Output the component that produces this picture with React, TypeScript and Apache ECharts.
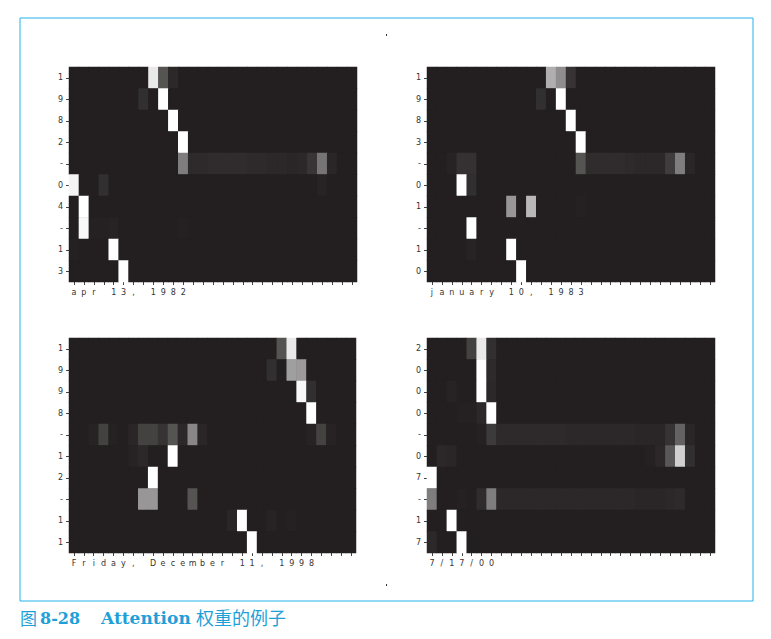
import React, { useEffect, useRef } from "react";
import * as echarts from "echarts";

const N_COLS = 29;

// Input characters (x tick labels) for each example
const xCharsA = ["a", "p", "r", " ", "1", "3", ",", " ", "1", "9", "8", "2"];
const xCharsB = ["j", "a", "n", "u", "a", "r", "y", " ", "1", "0", ",", " ", "1", "9", "8", "3"];
const xCharsC = ["F", "r", "i", "d", "a", "y", ",", " ", "D", "e", "c", "e", "m", "b", "e", "r", " ", "1", "1", ",", " ", "1", "9", "9", "8"];
const xCharsD = ["7", "/", "1", "7", "/", "0", "0"];

// Output characters (y tick labels)
const yCharsA = ["1", "9", "8", "2", "-", "0", "4", "-", "1", "3"];
const yCharsB = ["1", "9", "8", "3", "-", "0", "1", "-", "1", "0"];
const yCharsC = ["1", "9", "9", "8", "-", "1", "2", "-", "1", "1"];
const yCharsD = ["2", "0", "0", "0", "-", "0", "7", "-", "1", "7"];

// Attention weights, one map per output row: input column -> weight (others 0)
const weightsA: Record<number, number>[] = [
  { 8: 0.9, 9: 0.23, 10: 0.04 },
  { 7: 0.07, 9: 1 },
  { 10: 1 },
  { 11: 1 },
  { 11: 0.42, 12: 0.05, 13: 0.05, 14: 0.06, 15: 0.06, 16: 0.06, 17: 0.06, 18: 0.05, 19: 0.05, 20: 0.04, 21: 0.04, 22: 0.03, 23: 0.04, 24: 0.1, 25: 0.38, 26: 0.03 },
  { 0: 0.95, 3: 0.07, 25: 0.02 },
  { 1: 1 },
  { 1: 0.97, 2: 0.01, 3: 0.01, 4: 0.02, 11: 0.01 },
  { 0: 0.01, 4: 1 },
  { 5: 1 },
];

const weightsB: Record<number, number>[] = [
  { 12: 0.64, 13: 0.49, 14: 0.09 },
  { 11: 0.07, 13: 1 },
  { 14: 1 },
  { 15: 1 },
  { 2: 0.02, 3: 0.08, 4: 0.08, 15: 0.23, 16: 0.06, 17: 0.06, 18: 0.06, 19: 0.06, 20: 0.05, 21: 0.04, 22: 0.04, 23: 0.04, 24: 0.13, 25: 0.42, 26: 0.03 },
  { 3: 1, 4: 0.07 },
  { 8: 0.53, 10: 0.68, 15: 0.01 },
  { 4: 1 },
  { 4: 0.02, 8: 1 },
  { 9: 1 },
];

const weightsC: Record<number, number>[] = [
  { 21: 0.23, 22: 0.9 },
  { 20: 0.07, 22: 0.57, 23: 0.55 },
  { 23: 0.97, 24: 0.07 },
  { 24: 1 },
  { 2: 0.02, 3: 0.15, 4: 0.01, 6: 0.03, 7: 0.15, 8: 0.15, 9: 0.09, 10: 0.23, 11: 0.04, 12: 0.46, 13: 0.03, 24: 0.02, 25: 0.15, 26: 0.02 },
  { 6: 0.02, 7: 0.04, 10: 1 },
  { 8: 1 },
  { 7: 0.53, 8: 0.53, 12: 0.23 },
  { 16: 0.03, 17: 1, 20: 0.02, 22: 0.01 },
  { 18: 1 },
];

const weightsD: Record<number, number>[] = [
  { 4: 0.15, 5: 0.9, 6: 0.07 },
  { 5: 1, 6: 0.05 },
  { 2: 0.02, 5: 1, 6: 0.04 },
  { 3: 0.01, 4: 0.01, 5: 0.04, 6: 1 },
  { 5: 0.01, 6: 0.12, 7: 0.05, 8: 0.05, 9: 0.05, 10: 0.05, 11: 0.05, 12: 0.05, 13: 0.05, 14: 0.04, 15: 0.04, 16: 0.04, 17: 0.04, 18: 0.04, 19: 0.04, 20: 0.04, 21: 0.03, 22: 0.03, 23: 0.03, 24: 0.09, 25: 0.3, 26: 0.03 },
  { 1: 0.04, 2: 0.03, 22: 0.01, 23: 0.04, 24: 0.25, 25: 0.79, 26: 0.07 },
  { 0: 1 },
  { 0: 0.42, 3: 0.01, 5: 0.06, 6: 0.42, 7: 0.04, 8: 0.04, 9: 0.04, 10: 0.04, 11: 0.04, 12: 0.04, 13: 0.04, 14: 0.04, 15: 0.04, 16: 0.04, 17: 0.04, 18: 0.04, 19: 0.04, 20: 0.04, 21: 0.03, 22: 0.03, 23: 0.03, 24: 0.04, 25: 0.05 },
  { 2: 1 },
  { 0: 0.04, 3: 1 },
];

const panels = [
  { x: xCharsA, y: yCharsA, w: weightsA, grid: { left: 69, top: 67, width: 288, height: 215 } },
  { x: xCharsB, y: yCharsB, w: weightsB, grid: { left: 427, top: 67, width: 288, height: 215 } },
  { x: xCharsC, y: yCharsC, w: weightsC, grid: { left: 69, top: 338, width: 287, height: 215 } },
  { x: xCharsD, y: yCharsD, w: weightsD, grid: { left: 427, top: 338, width: 288, height: 215 } },
];

function padLabels(chars: string[]): string[] {
  const out = chars.slice();
  while (out.length < N_COLS) out.push("");
  return out;
}

function toCells(w: Record<number, number>[]): number[][] {
  const cells: number[][] = [];
  w.forEach((row, r) => {
    for (let c = 0; c < N_COLS; c++) {
      cells.push([c, r, row[c] ?? 0]);
    }
  });
  return cells;
}

const LABEL_FONT = "DejaVu Sans";
const DARK = "#231f20";

export default function App() {
  const ref = useRef<HTMLDivElement>(null);
  useEffect(() => {
    if (!ref.current) return;
    const chart = echarts.init(ref.current, undefined, { renderer: "svg" });
    const option: any = {
      animation: false,
      backgroundColor: "#ffffff",
      grid: panels.map((p) => ({ ...p.grid, containLabel: false, show: true, backgroundColor: DARK, borderWidth: 0 })),
      xAxis: panels.map((p, i) => ({
        type: "category",
        gridIndex: i,
        data: padLabels(p.x),
        axisLine: { show: false },
        axisTick: { show: true, alignWithLabel: true, interval: 0, length: 3, lineStyle: { color: "#444", width: 1 } },
        axisLabel: { interval: 0, fontSize: 8, color: "#333", margin: 6, fontFamily: LABEL_FONT },
        splitLine: { show: false },
      })),
      yAxis: panels.map((p, i) => ({
        type: "category",
        gridIndex: i,
        inverse: true,
        data: p.y,
        axisLine: { show: false },
        axisTick: { show: true, alignWithLabel: true, interval: 0, length: 3, lineStyle: { color: "#444", width: 1 } },
        axisLabel: { interval: 0, fontSize: 8, color: "#333", margin: 6, fontFamily: LABEL_FONT },
        splitLine: { show: false },
      })),
      visualMap: {
        type: "continuous",
        show: false,
        min: 0,
        max: 1,
        seriesIndex: [0, 1, 2, 3],
        inRange: { color: [DARK, "#ffffff"] },
      },
      series: panels.map((p, i) => ({
        type: "heatmap",
        xAxisIndex: i,
        yAxisIndex: i,
        data: toCells(p.w),
        itemStyle: { borderWidth: 0 },
        emphasis: { disabled: true },
      })),
      graphic: [
        { type: "rect", shape: { x: 20, y: 18, width: 733, height: 583 }, style: { fill: "none", stroke: "#22b2e8", lineWidth: 1 } },
        { type: "rect", shape: { x: 386, y: 34, width: 1, height: 2 }, style: { fill: "#333" } },
        { type: "rect", shape: { x: 386, y: 584, width: 1, height: 2 }, style: { fill: "#333" } },
        { type: "text", x: 20, y: 617, style: { text: "图", fontSize: 17, fontFamily: "Noto Sans CJK SC", fill: "#1f9fd8", verticalAlign: "middle" } },
        { type: "text", x: 40, y: 618, style: { text: "8-28", fontSize: 16, fontWeight: "bold", fontFamily: "DejaVu Serif", fill: "#1f9fd8", verticalAlign: "middle" } },
        { type: "text", x: 101, y: 618, style: { text: "Attention", fontSize: 17, fontWeight: "bold", fontFamily: "DejaVu Serif", fill: "#1f9fd8", verticalAlign: "middle" } },
        { type: "text", x: 196, y: 617, style: { text: "权重的例子", fontSize: 18, fontFamily: "Noto Sans CJK SC", fill: "#1f9fd8", verticalAlign: "middle" } },
      ],
    };
    chart.setOption(option);
    return () => chart.dispose();
  }, []);
  return <div ref={ref} style={{ position: "fixed", left: 0, top: 0, width: 771, height: 639 }} />;
}
